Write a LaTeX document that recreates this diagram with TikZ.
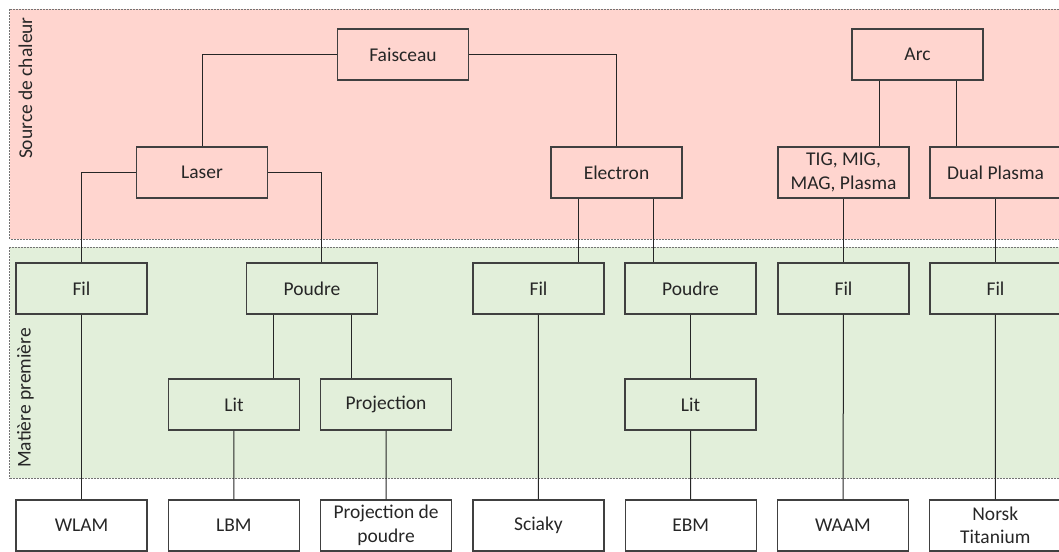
\documentclass[tikz,border=0pt]{standalone}
\usepackage{fontspec}
\setmainfont{Carlito}
\usepackage{tikz}
\usetikzlibrary{positioning, calc}

\definecolor{chaleur}{HTML}{FFD5CF}
\definecolor{matiere}{HTML}{E2EFDA}
\definecolor{trait}{HTML}{404040}
\definecolor{texte}{HTML}{262626}

\begin{document}
\begin{tikzpicture}[x=1pt, y=-1pt, font=\fontsize{19.5}{23.5}\selectfont, text=texte,
  bloc/.style={draw=trait, line width=1.2pt, rectangle, minimum width=131pt, minimum height=51pt, align=center, inner sep=2pt},
  zone/.style={draw=gray!90!black, dash pattern=on 2pt off 1pt, line width=0.9pt},
  lien/.style={draw=black!85, line width=1pt}]

  \useasboundingbox (0,0) rectangle (1059,551);
  \clip (0,0) rectangle (1059,551);

  % --- Zones (fond) ---
  \draw [zone, fill=chaleur] (9.5,9) rectangle (1075,239);
  \draw [zone, fill=matiere] (9.5,247) rectangle (1075,478);
  \node [rotate=90, anchor=east, inner sep=0pt] (chal) at (25.5,17) {Source de chaleur};
  \node [rotate=90, anchor=west, inner sep=0pt] (mat) at (25.5,468) {Matière première};

  % --- Procédés (ligne du bas) ---
  \node [bloc] (wlam) at (81.5,525.5) {WLAM};
  \node [bloc, right=20.1pt of wlam] (lbm) {LBM};
  \node [bloc, right=20.1pt of lbm] (projpoudre) {Projection de\\ poudre};
  \node [bloc, right=20.1pt of projpoudre] (sciaky) {Sciaky};
  \node [bloc, right=20.1pt of sciaky] (ebm) {EBM};
  \node [bloc, right=20.1pt of ebm] (waam) {WAAM};
  \node [bloc, right=20.1pt of waam] (norsk) {Norsk\\ Titanium};

  % --- Matière première ---
  \node [bloc] (fila) at (81.5,288.5) {Fil};
  \node [bloc] (poudrea) at (312,288.5) {Poudre};
  \node [bloc] (filb) at (538.5,288.5) {Fil};
  \node [bloc] (poudreb) at (690.5,288.5) {Poudre};
  \node [bloc] (filc) at (843.5,288.5) {Fil};
  \node [bloc] (fild) at (995.5,288.5) {Fil};

  \node [bloc] (lita) at (234,404.5) {Lit};
  \node [bloc] (proj) at (386,404.5) {Projection};
  \node [bloc] (litb) at (690.5,404.5) {Lit};

  % --- Source de chaleur ---
  \node [bloc] (faisceau) at (403,54.5) {Faisceau};
  \node [bloc] (arc) at (917.5,54.5) {Arc};
  \node [bloc] (laser) at (202,172.5) {Laser};
  \node [bloc] (electron) at (616.5,172.5) {Electron};
  \node [bloc] (tig) at (843.5,172.5) {TIG, MIG,\\ MAG, Plasma};
  \node [bloc] (dual) at (995.5,172.5) {Dual Plasma};

  % points de départ décalés
  \coordinate (arc1) at ([xshift=-38pt]arc.south);
  \coordinate (arc2) at ([xshift=38.5pt]arc.south);
  \coordinate (ele1) at ([xshift=-38pt]electron.south);
  \coordinate (ele2) at ([xshift=37pt]electron.south);
  \coordinate (pou1) at ([xshift=-39pt]poudrea.south);
  \coordinate (pou2) at ([xshift=39pt]poudrea.south);
  \coordinate (pouin) at ([xshift=9pt]poudrea.north);

  % --- Liens ---
  \draw [lien] (faisceau.west) -| (laser.north);
  \draw [lien] (faisceau.east) -| (electron.north);
  \draw [lien] (arc1) -- (arc1 |- tig.north);
  \draw [lien] (arc2) -- (arc2 |- dual.north);

  \draw [lien] (laser.west) -| (fila.north);
  \draw [lien] (laser.east) -| (pouin);
  \draw [lien] (ele1) -- (ele1 |- filb.north);
  \draw [lien] (ele2) -- (ele2 |- poudreb.north);
  \draw [lien] (tig) -- (filc);
  \draw [lien] (dual) -- (fild);

  \draw [lien] (pou1) -- (pou1 |- lita.north);
  \draw [lien] (pou2) -- (pou2 |- proj.north);
  \draw [lien] (poudreb) -- (litb);

  \draw [lien] (fila) -- (wlam);
  \draw [lien] (lita) -- (lbm);
  \draw [lien] (proj) -- (projpoudre);
  \draw [lien] (filb) -- (sciaky);
  \draw [lien] (litb) -- (ebm);
  \draw [lien] (filc) -- (waam);
  \draw [lien] (fild) -- (norsk);

\end{tikzpicture}
\end{document}
